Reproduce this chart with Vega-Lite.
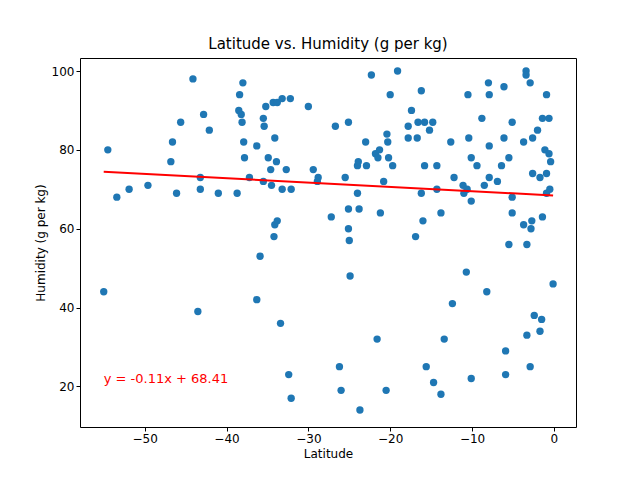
{
  "$schema": "https://vega.github.io/schema/vega-lite/v6.json",
  "width": 496,
  "height": 369,
  "autosize": {"type": "none"},
  "padding": {"left": 80, "top": 58, "right": 64, "bottom": 53},
  "background": "white",
  "title": {"text": "Latitude vs. Humidity (g per kg)", "font": "DejaVu Sans", "fontSize": 15, "fontWeight": "normal", "color": "black", "offset": 6},
  "config": {
    "view": {"stroke": "black", "strokeWidth": 1},
    "axis": {"grid": false, "domain": false, "tickColor": "black", "tickSize": 4, "labelFont": "DejaVu Sans", "labelFontSize": 12, "labelColor": "black", "titleFont": "DejaVu Sans", "titleFontSize": 12, "titleFontWeight": "normal", "titleColor": "black"}
  },
  "layer": [
    {
      "data": {"values": [
        {"lat": -55, "hum": 44}, {"lat": -54.5, "hum": 80}, {"lat": -53.4, "hum": 68}, {"lat": -51.9, "hum": 70},
        {"lat": -49.6, "hum": 71}, {"lat": -46.8, "hum": 77}, {"lat": -46.6, "hum": 82}, {"lat": -46.1, "hum": 69},
        {"lat": -45.6, "hum": 87}, {"lat": -44.1, "hum": 98}, {"lat": -43.5, "hum": 39}, {"lat": -43.2, "hum": 73},
        {"lat": -43.2, "hum": 70}, {"lat": -42.8, "hum": 89}, {"lat": -42.1, "hum": 85}, {"lat": -41, "hum": 69},
        {"lat": -38.7, "hum": 69}, {"lat": -38.5, "hum": 90}, {"lat": -38.4, "hum": 94}, {"lat": -38.2, "hum": 89},
        {"lat": -38.1, "hum": 87}, {"lat": -38, "hum": 97}, {"lat": -37.9, "hum": 82}, {"lat": -37.8, "hum": 78},
        {"lat": -37.2, "hum": 73}, {"lat": -36.3, "hum": 81}, {"lat": -36.3, "hum": 42}, {"lat": -35.9, "hum": 53},
        {"lat": -35.5, "hum": 72}, {"lat": -35.5, "hum": 88}, {"lat": -35.4, "hum": 86}, {"lat": -35.2, "hum": 91},
        {"lat": -34.9, "hum": 78}, {"lat": -34.6, "hum": 75}, {"lat": -34.5, "hum": 71}, {"lat": -34.3, "hum": 92},
        {"lat": -34.1, "hum": 83}, {"lat": -34.1, "hum": 61}, {"lat": -34.2, "hum": 58}, {"lat": -33.8, "hum": 62},
        {"lat": -33.9, "hum": 77}, {"lat": -33.8, "hum": 92}, {"lat": -33.4, "hum": 36}, {"lat": -33.2, "hum": 93},
        {"lat": -33.2, "hum": 70}, {"lat": -32.7, "hum": 75}, {"lat": -32.4, "hum": 23}, {"lat": -32.2, "hum": 93},
        {"lat": -32.1, "hum": 17}, {"lat": -32.1, "hum": 70}, {"lat": -30, "hum": 91}, {"lat": -29.4, "hum": 75},
        {"lat": -28.9, "hum": 72}, {"lat": -28.8, "hum": 73}, {"lat": -27.2, "hum": 63}, {"lat": -26.7, "hum": 86},
        {"lat": -26.2, "hum": 25}, {"lat": -26, "hum": 19}, {"lat": -25.5, "hum": 73}, {"lat": -25.1, "hum": 87},
        {"lat": -25.1, "hum": 65}, {"lat": -25.1, "hum": 60}, {"lat": -25, "hum": 57}, {"lat": -24.9, "hum": 48},
        {"lat": -24, "hum": 69}, {"lat": -24, "hum": 76}, {"lat": -23.9, "hum": 77}, {"lat": -23.8, "hum": 65},
        {"lat": -23.7, "hum": 14}, {"lat": -22.9, "hum": 76}, {"lat": -23, "hum": 82}, {"lat": -22.3, "hum": 99},
        {"lat": -21.8, "hum": 79}, {"lat": -21.6, "hum": 32}, {"lat": -21.5, "hum": 78}, {"lat": -21.3, "hum": 80},
        {"lat": -21.2, "hum": 64}, {"lat": -20.8, "hum": 72}, {"lat": -20.5, "hum": 19}, {"lat": -20.4, "hum": 84},
        {"lat": -20.3, "hum": 82}, {"lat": -20.2, "hum": 78}, {"lat": -20, "hum": 94}, {"lat": -19.7, "hum": 76},
        {"lat": -19.1, "hum": 100}, {"lat": -17.8, "hum": 86}, {"lat": -17.8, "hum": 83}, {"lat": -17.4, "hum": 90},
        {"lat": -16.9, "hum": 58}, {"lat": -16.7, "hum": 83}, {"lat": -16.6, "hum": 87}, {"lat": -16.2, "hum": 95},
        {"lat": -16.2, "hum": 69}, {"lat": -16, "hum": 62}, {"lat": -15.8, "hum": 87}, {"lat": -15.8, "hum": 76},
        {"lat": -15.6, "hum": 25}, {"lat": -15.2, "hum": 85}, {"lat": -14.8, "hum": 87}, {"lat": -14.7, "hum": 21},
        {"lat": -14.3, "hum": 76}, {"lat": -14.3, "hum": 70}, {"lat": -13.8, "hum": 64}, {"lat": -13.8, "hum": 18},
        {"lat": -13.4, "hum": 32}, {"lat": -12.6, "hum": 82}, {"lat": -12.4, "hum": 41}, {"lat": -12.2, "hum": 73},
        {"lat": -11.1, "hum": 71}, {"lat": -11, "hum": 69}, {"lat": -10.7, "hum": 49}, {"lat": -10.6, "hum": 70},
        {"lat": -10.5, "hum": 94}, {"lat": -10.4, "hum": 83}, {"lat": -10.1, "hum": 78}, {"lat": -10.1, "hum": 67},
        {"lat": -10.1, "hum": 22}, {"lat": -9.4, "hum": 76}, {"lat": -8.8, "hum": 88}, {"lat": -8.5, "hum": 71},
        {"lat": -8.2, "hum": 44}, {"lat": -8, "hum": 97}, {"lat": -7.9, "hum": 94}, {"lat": -7.9, "hum": 81},
        {"lat": -7.9, "hum": 73}, {"lat": -6.9, "hum": 72}, {"lat": -6.4, "hum": 76}, {"lat": -6.1, "hum": 96},
        {"lat": -6.1, "hum": 83}, {"lat": -5.9, "hum": 29}, {"lat": -5.9, "hum": 23}, {"lat": -5.5, "hum": 78},
        {"lat": -5.5, "hum": 56}, {"lat": -5.1, "hum": 87}, {"lat": -5.1, "hum": 68}, {"lat": -5.1, "hum": 64},
        {"lat": -3.7, "hum": 82}, {"lat": -3.7, "hum": 61}, {"lat": -3.4, "hum": 100}, {"lat": -3.4, "hum": 99},
        {"lat": -3.3, "hum": 56}, {"lat": -3.3, "hum": 33}, {"lat": -2.9, "hum": 97}, {"lat": -2.9, "hum": 25},
        {"lat": -2.8, "hum": 60}, {"lat": -2.7, "hum": 62}, {"lat": -2.6, "hum": 83}, {"lat": -2.6, "hum": 74},
        {"lat": -2.4, "hum": 38}, {"lat": -2, "hum": 85}, {"lat": -1.7, "hum": 73}, {"lat": -1.7, "hum": 34},
        {"lat": -1.5, "hum": 37}, {"lat": -1.4, "hum": 88}, {"lat": -1.4, "hum": 63}, {"lat": -1.1, "hum": 80},
        {"lat": -0.9, "hum": 94}, {"lat": -0.9, "hum": 74}, {"lat": -0.9, "hum": 69}, {"lat": -0.6, "hum": 88},
        {"lat": -0.6, "hum": 79}, {"lat": -0.5, "hum": 70}, {"lat": -0.4, "hum": 77}, {"lat": -0.1, "hum": 46}
      ]},
      "mark": {"type": "circle", "size": 54, "color": "#1f77b4", "opacity": 1},
      "encoding": {
        "x": {"field": "lat", "type": "quantitative", "title": "Latitude", "scale": {"domain": [-57.9, 2.7], "nice": false}, "axis": {"values": [-50, -40, -30, -20, -10, 0]}},
        "y": {"field": "hum", "type": "quantitative", "title": "Humidity (g per kg)", "scale": {"domain": [9.7, 103.3], "nice": false}, "axis": {"values": [20, 40, 60, 80, 100]}}
      }
    },
    {
      "data": {"values": [{"lat": -55, "hum": 74.46}, {"lat": -0.1, "hum": 68.42}]},
      "mark": {"type": "line", "color": "red", "strokeWidth": 2},
      "encoding": {
        "x": {"field": "lat", "type": "quantitative"},
        "y": {"field": "hum", "type": "quantitative"}
      }
    },
    {
      "data": {"values": [{"lat": -55, "hum": 20, "label": "y = -0.11x + 68.41"}]},
      "mark": {"type": "text", "color": "red", "font": "DejaVu Sans", "fontSize": 13, "align": "left", "baseline": "bottom"},
      "encoding": {
        "x": {"field": "lat", "type": "quantitative"},
        "y": {"field": "hum", "type": "quantitative"},
        "text": {"field": "label"}
      }
    }
  ]
}
